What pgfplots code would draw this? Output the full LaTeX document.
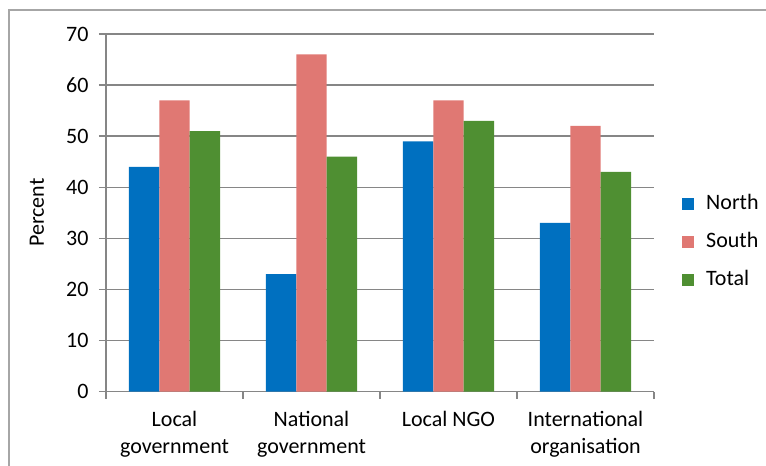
\documentclass[border=0pt]{standalone}
\usepackage{fontspec}
\setmainfont{Carlito}
\usepackage{pgfplots}
\pgfplotsset{compat=1.18}
\definecolor{north}{HTML}{0070C0}
\definecolor{south}{HTML}{E07873}
\definecolor{total}{HTML}{4F8F32}
\definecolor{gridc}{HTML}{868686}
\definecolor{framec}{HTML}{A6A6A6}

\begin{document}
\begin{tikzpicture}[x=1pt,y=1pt]
\path[use as bounding box] (0,0) rectangle (766,-466);
\draw[framec, line width=1.3pt] (9,-520) -- (9,-10) -- (820,-10);
\begin{axis}[
    at={(106pt,-391.5pt)}, anchor=south west,
    width=548pt, height=357.5pt, scale only axis,
    ymin=0, ymax=70, ytick={0,10,...,70},
    xmin=0.5, xmax=4.5,
    xtick={0.5,1.5,2.5,3.5,4.5},
    x tick label as interval,
    xticklabels={Local\\government, National\\government, Local NGO, International\\organisation},
    xticklabel style={align=center, yshift=-9pt, font=\fontsize{22}{27}\selectfont},
    yticklabel style={xshift=-7pt, font=\fontsize{22}{27}\selectfont},
    /pgf/number format/assume math mode=true,
    ylabel={Percent},
    every axis y label/.style={at={(axis description cs:-0.1259,0.5)}, rotate=90, anchor=center, font=\fontsize{22}{27}\selectfont},
    ymajorgrids, grid style={gridc, line width=1.3pt},
    axis x line*=bottom, axis y line*=left,
    axis line style={-, gridc, line width=1.3pt},
    tick align=outside, major tick length=7pt,
    tick style={gridc, line width=1.3pt},
    ybar=0pt, bar width=30.44pt,
    legend cell align=left,
    legend style={at={(axis description cs:1.0511,0.4175)}, anchor=west,
        draw=none, fill=none, inner sep=0pt, row sep=17pt,
        font=\fontsize{22}{27}\selectfont,
        nodes={inner sep=0pt, text height=16pt, text depth=5pt},
        /tikz/every odd column/.append style={column sep=12pt}},
    legend image code/.code={\fill[#1] (0pt,-6pt) rectangle (12pt,6pt);},
]
\addplot[fill=north, draw=none] coordinates {(1,44) (2,23) (3,49) (4,33)};
\addplot[fill=south, draw=none] coordinates {(1,57) (2,66) (3,57) (4,52)};
\addplot[fill=total, draw=none] coordinates {(1,51) (2,46) (3,53) (4,43)};
\legend{North, South, Total}
\end{axis}
\end{tikzpicture}
\end{document}
